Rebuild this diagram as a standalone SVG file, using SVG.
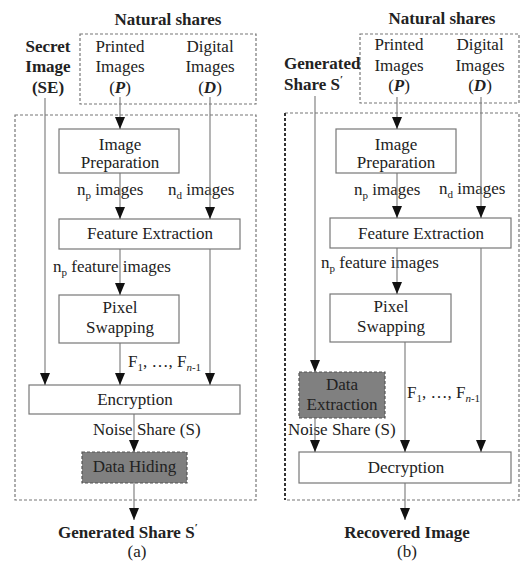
<svg xmlns="http://www.w3.org/2000/svg" width="523" height="563" viewBox="0 0 523 563">
<defs>
<marker id="arr" viewBox="0 0 12 10" refX="12" refY="5" markerWidth="12" markerHeight="10" markerUnits="userSpaceOnUse" orient="auto">
<path d="M0,0 L12,5 L0,10 z" fill="#111"/>
</marker>
<style>
text{font-family:'Liberation Serif','Times New Roman',Times,'DejaVu Serif',serif;font-size:17px;fill:#222}
.b{font-weight:bold}
.c{text-anchor:middle}
.box{fill:#fff;stroke:#777;stroke-width:1.2}
.gray{fill:#808080;stroke:#555;stroke-width:1.2;stroke-dasharray:3 2}
.dash{fill:none;stroke:#777;stroke-width:1.2;stroke-dasharray:3 2}
.ln{fill:none;stroke:#777;stroke-width:1.1}
.ar{marker-end:url(#arr)}
.sub{font-size:11px}
</style>
</defs>
<rect width="523" height="563" fill="#fff"/>

<!-- Panel (a) -->
<g id="a-frame">
<text class="b c" x="168" y="25">Natural shares</text>
<rect class="dash" x="80" y="34" width="176" height="70"/>
<rect class="dash" x="15" y="115" width="241" height="385"/>
</g>
<g id="a-secret">
<text class="b c" x="48" y="52">Secret</text>
<text class="b c" x="48" y="72">Image</text>
<text class="b c" x="48" y="93">(SE)</text>
</g>
<g id="a-printed">
<text class="c" x="120" y="52">Printed</text>
<text class="c" x="120" y="72">Images</text>
<text class="c" x="120" y="93">(<tspan class="b" font-style="italic">P</tspan>)</text>
</g>
<g id="a-digital">
<text class="c" x="210" y="52">Digital</text>
<text class="c" x="210" y="72">Images</text>
<text class="c" x="210" y="93">(<tspan class="b" font-style="italic">D</tspan>)</text>
</g>
<g id="a-prep">
<rect class="box" x="59" y="129" width="120" height="44"/>
<text class="c" x="120" y="150">Image</text>
<text class="c" x="120" y="168">Preparation</text>
</g>
<g id="a-feat">
<rect class="box" x="59" y="219" width="181" height="30"/>
<text class="c" x="150" y="239">Feature Extraction</text>
</g>
<g id="a-swap">
<rect class="box" x="59" y="295" width="120" height="48"/>
<text class="c" x="120" y="313">Pixel</text>
<text class="c" x="120" y="333">Swapping</text>
</g>
<g id="a-enc">
<rect class="box" x="29" y="385" width="211" height="29"/>
<text class="c" x="135" y="405">Encryption</text>
</g>
<g id="a-hide">
<rect class="gray" x="82" y="452" width="105" height="31"/>
<text class="c" x="134.5" y="472">Data Hiding</text>
</g>
<g id="a-out">
<text class="b" x="58" y="538">Generated Share S<tspan class="sub" dy="-7">′</tspan></text>
<text class="c" x="137" y="557">(a)</text>
</g>
<g id="a-labels">
<text x="77" y="195">n<tspan class="sub" dy="4">p</tspan><tspan dy="-4"> images</tspan></text>
<text x="168" y="195">n<tspan class="sub" dy="4">d</tspan><tspan dy="-4"> images</tspan></text>
<text x="53" y="272">n<tspan class="sub" dy="4">p</tspan><tspan dy="-4"> feature images</tspan></text>
<text x="128" y="367">F<tspan class="sub" dy="4">1</tspan><tspan dy="-4">, …, F</tspan><tspan class="sub" dy="4"><tspan font-style="italic">n</tspan>-1</tspan></text>
<text x="93" y="435">Noise Share (S)</text>
</g>
<g id="a-connectors">
<line class="ln ar" x1="45" y1="98" x2="45" y2="385"/>
<line class="ln ar" x1="120" y1="97" x2="120" y2="129"/>
<line class="ln ar" x1="210" y1="97" x2="210" y2="219"/>
<line class="ln ar" x1="120" y1="173" x2="120" y2="219"/>
<line class="ln ar" x1="120" y1="249" x2="120" y2="295"/>
<line class="ln ar" x1="120" y1="343" x2="120" y2="385"/>
<line class="ln ar" x1="210" y1="249" x2="210" y2="385"/>
<line class="ln ar" x1="134" y1="414" x2="134" y2="452"/>
<line class="ln ar" x1="134" y1="483" x2="134" y2="520"/>
</g>

<!-- Panel (b) -->
<g id="b-frame">
<text class="b c" x="442" y="24">Natural shares</text>
<rect class="dash" x="360" y="34" width="159" height="69"/>
<path class="dash" d="M285,113 H519 V500 H285"/>
<line x1="285" y1="113" x2="285" y2="500" stroke="#333" stroke-width="2" stroke-dasharray="3 2"/>
</g>
<g id="b-gen">
<text class="b" x="284" y="69">Generated</text>
<text class="b" x="284" y="90">Share S<tspan class="sub" dy="-7">′</tspan></text>
</g>
<g id="b-printed">
<text class="c" x="399" y="50">Printed</text>
<text class="c" x="399" y="71">Images</text>
<text class="c" x="399" y="91">(<tspan class="b" font-style="italic">P</tspan>)</text>
</g>
<g id="b-digital">
<text class="c" x="480" y="50">Digital</text>
<text class="c" x="480" y="71">Images</text>
<text class="c" x="480" y="91">(<tspan class="b" font-style="italic">D</tspan>)</text>
</g>
<g id="b-prep">
<rect class="box" x="336" y="129" width="120" height="44"/>
<text class="c" x="396" y="150">Image</text>
<text class="c" x="396" y="168">Preparation</text>
</g>
<g id="b-feat">
<rect class="box" x="330" y="218" width="181" height="30"/>
<text class="c" x="421" y="239">Feature Extraction</text>
</g>
<g id="b-swap">
<rect class="box" x="330" y="294" width="121" height="48"/>
<text class="c" x="391" y="312">Pixel</text>
<text class="c" x="391" y="332">Swapping</text>
</g>
<g id="b-extract">
<rect class="gray" x="299" y="372" width="86" height="46"/>
<text class="c" x="342" y="390">Data</text>
<text class="c" x="342" y="410">Extraction</text>
</g>
<g id="b-dec">
<rect class="box" x="299" y="452" width="212" height="31"/>
<text class="c" x="406" y="473">Decryption</text>
</g>
<g id="b-out">
<text class="b c" x="407" y="538">Recovered Image</text>
<text class="c" x="407" y="557">(b)</text>
</g>
<g id="b-labels">
<text x="354" y="195">n<tspan class="sub" dy="4">p</tspan><tspan dy="-4"> images</tspan></text>
<text x="439" y="194">n<tspan class="sub" dy="4">d</tspan><tspan dy="-4"> images</tspan></text>
<text x="321" y="268">n<tspan class="sub" dy="4">p</tspan><tspan dy="-4"> feature images</tspan></text>
<text x="407" y="398">F<tspan class="sub" dy="4">1</tspan><tspan dy="-4">, …, F</tspan><tspan class="sub" dy="4"><tspan font-style="italic">n</tspan>-1</tspan></text>
<text x="288" y="435">Noise Share (S)</text>
</g>
<g id="b-connectors">
<line class="ln ar" x1="315" y1="96" x2="315" y2="372"/>
<line class="ln ar" x1="397" y1="97" x2="397" y2="129"/>
<line class="ln ar" x1="481" y1="97" x2="481" y2="218"/>
<line class="ln ar" x1="397" y1="173" x2="397" y2="218"/>
<line class="ln ar" x1="397" y1="248" x2="397" y2="294"/>
<line class="ln ar" x1="405" y1="342" x2="405" y2="452"/>
<line class="ln ar" x1="481" y1="248" x2="481" y2="452"/>
<line class="ln ar" x1="315" y1="418" x2="315" y2="452"/>
<line class="ln ar" x1="405" y1="483" x2="405" y2="520"/>
</g>
</svg>
